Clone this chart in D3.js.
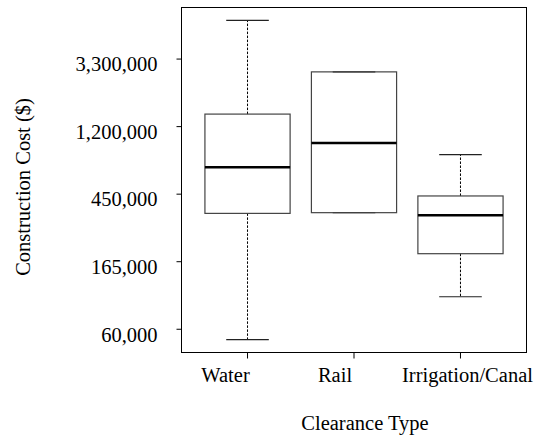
<!DOCTYPE html>
<html>
<head>
<meta charset="utf-8">
<script src="https://cdn.jsdelivr.net/npm/d3@7"></script>
<style>
  body { margin: 0; background: #fff; }
  svg { display: block; font-family: "Liberation Serif", "Times New Roman", serif; }
</style>
</head>
<body>
<div id="chart"></div>
<script>
// clearance types and box stats (dollars)
const categories = ["Water", "Rail", "Irrigation/Canal"];
const whiskerLow = [50900, 333900, 96200];
const q1 = [330400, 333900, 181900];
const median = [653200, 937500, 320800];
const q3 = [1436900, 2684600, 427600];
const whiskerHigh = [5763000, 2684600, 788500];

// y ticks sit at e^11 .. e^15, labelled with rounded figures
const tickValues = [59874, 162755, 442413, 1202604, 3269017];
const tickLabels = ["60,000", "165,000", "450,000", "1,200,000", "3,300,000"];

const width = 539, height = 437;
const margin = { top: 7.5, right: 12.5, bottom: 84.5, left: 181.5 };
const innerW = width - margin.left - margin.right;
const innerH = height - margin.top - margin.bottom;

const svg = d3.select("#chart").append("svg")
  .attr("width", width)
  .attr("height", height);

const g = svg.append("g")
  .attr("transform", `translate(${margin.left},${margin.top})`);

// log scale, padded 4% each side like R does
const lo = Math.log(d3.min(whiskerLow)), hi = Math.log(d3.max(whiskerHigh));
const pad = (hi - lo) * 0.04;
const y = d3.scaleLog()
  .domain([Math.exp(lo - pad), Math.exp(hi + pad)])
  .range([innerH, 0]);

const x = d3.scaleBand()
  .domain(categories)
  .range([0, innerW])
  .paddingInner(0.2)
  .paddingOuter(0.22);

const bw = x.bandwidth();
const cx = d => x(d) + bw / 2;

const boxes = categories.map((c, i) => ({
  name: c, lo: whiskerLow[i], q1: q1[i], med: median[i], q3: q3[i], hi: whiskerHigh[i]
}));

const box = g.selectAll("g.box")
  .data(boxes)
  .join("g")
  .attr("class", "box");

// whiskers
box.append("line")
  .attr("x1", d => cx(d.name)).attr("x2", d => cx(d.name))
  .attr("y1", d => y(d.q3)).attr("y2", d => y(d.hi))
  .attr("stroke", "#000").attr("stroke-dasharray", "2.5,1.5");
box.append("line")
  .attr("x1", d => cx(d.name)).attr("x2", d => cx(d.name))
  .attr("y1", d => y(d.q1)).attr("y2", d => y(d.lo))
  .attr("stroke", "#000").attr("stroke-dasharray", "2.5,1.5");

// caps
["lo", "hi"].forEach(k => {
  box.append("line")
    .attr("x1", d => cx(d.name) - bw / 4).attr("x2", d => cx(d.name) + bw / 4)
    .attr("y1", d => y(d[k])).attr("y2", d => y(d[k]))
    .attr("stroke", "#222").attr("stroke-width", 1.2);
});

// boxes
box.append("rect")
  .attr("x", d => x(d.name))
  .attr("width", bw)
  .attr("y", d => y(d.q3))
  .attr("height", d => y(d.q1) - y(d.q3))
  .attr("fill", "none")
  .attr("stroke", "#444")
  .attr("stroke-width", 1.2);

// medians
box.append("line")
  .attr("x1", d => x(d.name)).attr("x2", d => x(d.name) + bw)
  .attr("y1", d => y(d.med)).attr("y2", d => y(d.med))
  .attr("stroke", "#000").attr("stroke-width", 2.5);

// frame
g.append("rect")
  .attr("width", innerW).attr("height", innerH)
  .attr("fill", "none").attr("stroke", "#000");

// axes
const yAxis = g.append("g")
  .call(d3.axisLeft(y).tickValues(tickValues)
    .tickFormat((d, i) => tickLabels[i]).tickSize(5).tickPadding(19));
yAxis.select(".domain").remove();
yAxis.selectAll("text")
  .attr("dy", "0.6em")
  .style("font-size", "20.5px")
  .style("font-family", "Liberation Serif")
  .attr("fill", "#000");

// x labels were nudged off-centre in the original
const labelNudge = { "Water": -22, "Rail": -19, "Irrigation/Canal": 7 };
const xAxis = g.append("g")
  .attr("transform", `translate(0,${innerH})`)
  .call(d3.axisBottom(x).tickSize(6).tickPadding(9));
xAxis.select(".domain").remove();
xAxis.selectAll("text")
  .attr("dx", d => labelNudge[d])
  .style("font-size", "20.5px")
  .style("font-family", "Liberation Serif")
  .attr("fill", "#000");

// titles
svg.append("text")
  .attr("x", margin.left + innerW / 2 + 11)
  .attr("y", 430)
  .attr("text-anchor", "middle")
  .style("font-size", "20.5px")
  .text("Clearance Type");

svg.append("text")
  .attr("transform", `translate(30,187) rotate(-90)`)
  .attr("text-anchor", "middle")
  .style("font-size", "20.5px")
  .text("Construction Cost ($)");
</script>
</body>
</html>
